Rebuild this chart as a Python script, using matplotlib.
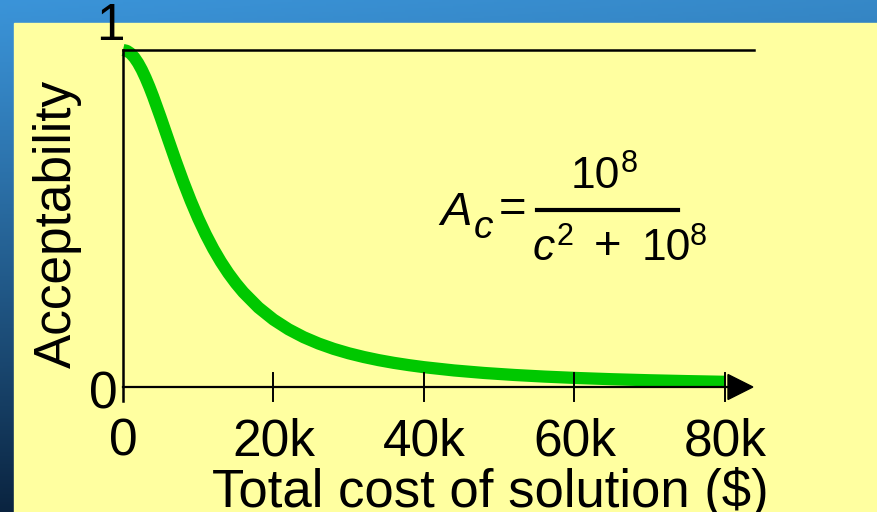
import matplotlib
matplotlib.use("Agg")
import matplotlib.pyplot as plt
import numpy as np
from matplotlib.patches import Rectangle, Polygon

plt.rcParams['font.family'] = ['Liberation Sans', 'DejaVu Sans']

# acceptability A = 1e8 / (c^2 + 1e8), tabulated
cost = [0, 500, 1000, 1500, 2000, 2500, 3000, 3500, 4000, 5000, 6000,
        7000, 8000, 9000, 10000, 11000, 12000, 13000, 14000, 15000, 16000,
        18000, 20000, 22000, 24000, 26000, 28000, 30000, 32000, 34000,
        36000, 38000, 40000, 44000, 48000, 52000, 56000, 60000, 65000,
        70000, 75000, 80000]
accept = [1.0, 0.9975, 0.9901, 0.9780, 0.9615, 0.9412, 0.9174, 0.8909,
          0.8621, 0.8, 0.7353, 0.6711, 0.6098, 0.5525, 0.5, 0.4525, 0.4098,
          0.3717, 0.3378, 0.3077, 0.2809, 0.2358, 0.2, 0.1712, 0.1479,
          0.1289, 0.1131, 0.1, 0.0890, 0.0796, 0.0716, 0.0648, 0.0588,
          0.0491, 0.0416, 0.0357, 0.0309, 0.0270, 0.0231, 0.0200, 0.0175,
          0.0154]
xticks = [0, 20000, 40000, 60000, 80000]
xtick_labels = ['0', '20k', '40k', '60k', '80k']

W, H = 878, 512
fig = plt.figure(figsize=(W / 100, H / 100), dpi=100)


def px(x, y):
    return x / W, 1 - y / H


# blue slide background with a darker left edge
bg = fig.add_axes([0, 0, 1, 1])
bg.set_axis_off()
yy = np.linspace(0, 1, 256)[:, None]
xx = np.linspace(0, 1, 256)[None, :]
top = np.array([0.23, 0.58, 0.85])
bottom = np.array([0.04, 0.14, 0.25])
grad = top + (bottom - top) * yy[..., None] ** 1.1
grad = grad * (1 - 0.08 * xx[..., None])
bg.imshow(np.clip(grad, 0, 1), extent=[0, 1, 0, 1], aspect='auto')
bg.add_patch(Rectangle(px(14, 512), (W - 14) / W, (512 - 23) / H,
                       transform=fig.transFigure, color='#FFFFA0', zorder=2))
bg.set_xlim(0, 1)
bg.set_ylim(0, 1)

# plot area: x 0..80k -> 123..725 px, y 0..1 -> 387..50 px
ax = fig.add_axes([123 / W, (H - 387) / H, (725 - 123) / W, (387 - 50) / H])
ax.set_axis_off()
ax.set_xlim(0, 80000)
ax.set_ylim(0, 1)
ax.patch.set_alpha(0)

ax.plot(cost, accept, color='#00C800', lw=8.8, solid_capstyle='butt',
        solid_joinstyle='round', clip_on=False, zorder=3)

# axes drawn by hand
ax.plot([0, 83850], [1, 1], color='black', lw=1.8, clip_on=False, zorder=4)
ax.plot([0, 0], [1, -0.042], color='black', lw=1.8, clip_on=False, zorder=4)
ax.plot([0, 80400], [0, 0], color='black', lw=1.6, clip_on=False, zorder=4)
ax.add_patch(Polygon([[80400, 0.037], [83700, 0], [80400, -0.037]],
                     closed=True, color='black', clip_on=False, zorder=4))
for t in xticks[1:]:
    ax.plot([t, t], [0.043, -0.043], color='black', lw=1.4,
            clip_on=False, zorder=4)

fs = 37
for t, lab in zip(xticks, xtick_labels):
    ax.text(t, -0.163, lab, ha='center', va='center', fontsize=fs)

fig.text(*px(110, 27), '1', ha='center', va='center', fontsize=fs)
fig.text(*px(103, 395), '0', ha='center', va='center', fontsize=fs)
fig.text(*px(57, 224), 'Acceptability', rotation=90, ha='center',
         va='center', fontsize=fs)
fig.text(*px(490, 507), 'Total cost of solution ($)', ha='center',
         va='baseline', fontsize=38)

# formula A_c = 10^8 / (c^2 + 10^8)
ffs = 32
sfs = 22
fig.text(*px(440, 225), 'A', style='italic', fontsize=ffs + 2,
         va='baseline')
fig.text(*px(474, 238), 'c', style='italic', fontsize=ffs - 4,
         va='baseline')
fig.text(*px(513, 210), '=', fontsize=ffs + 2, ha='center', va='center')
bg.plot([537 / W, 678 / W], [1 - 209.5 / H] * 2, color='black', lw=3,
        zorder=5)
fig.text(*px(571, 188), '10', fontsize=ffs, va='baseline')
fig.text(*px(621, 172), '8', fontsize=sfs, va='baseline')
fig.text(*px(533, 260), 'c', style='italic', fontsize=ffs, va='baseline')
fig.text(*px(557, 245), '2', fontsize=sfs, va='baseline')
fig.text(*px(608, 247), '+', fontsize=ffs + 2, ha='center', va='center')
fig.text(*px(642, 260), '10', fontsize=ffs, va='baseline')
fig.text(*px(690, 245), '8', fontsize=sfs, va='baseline')

fig.savefig('out.png', dpi=100)
